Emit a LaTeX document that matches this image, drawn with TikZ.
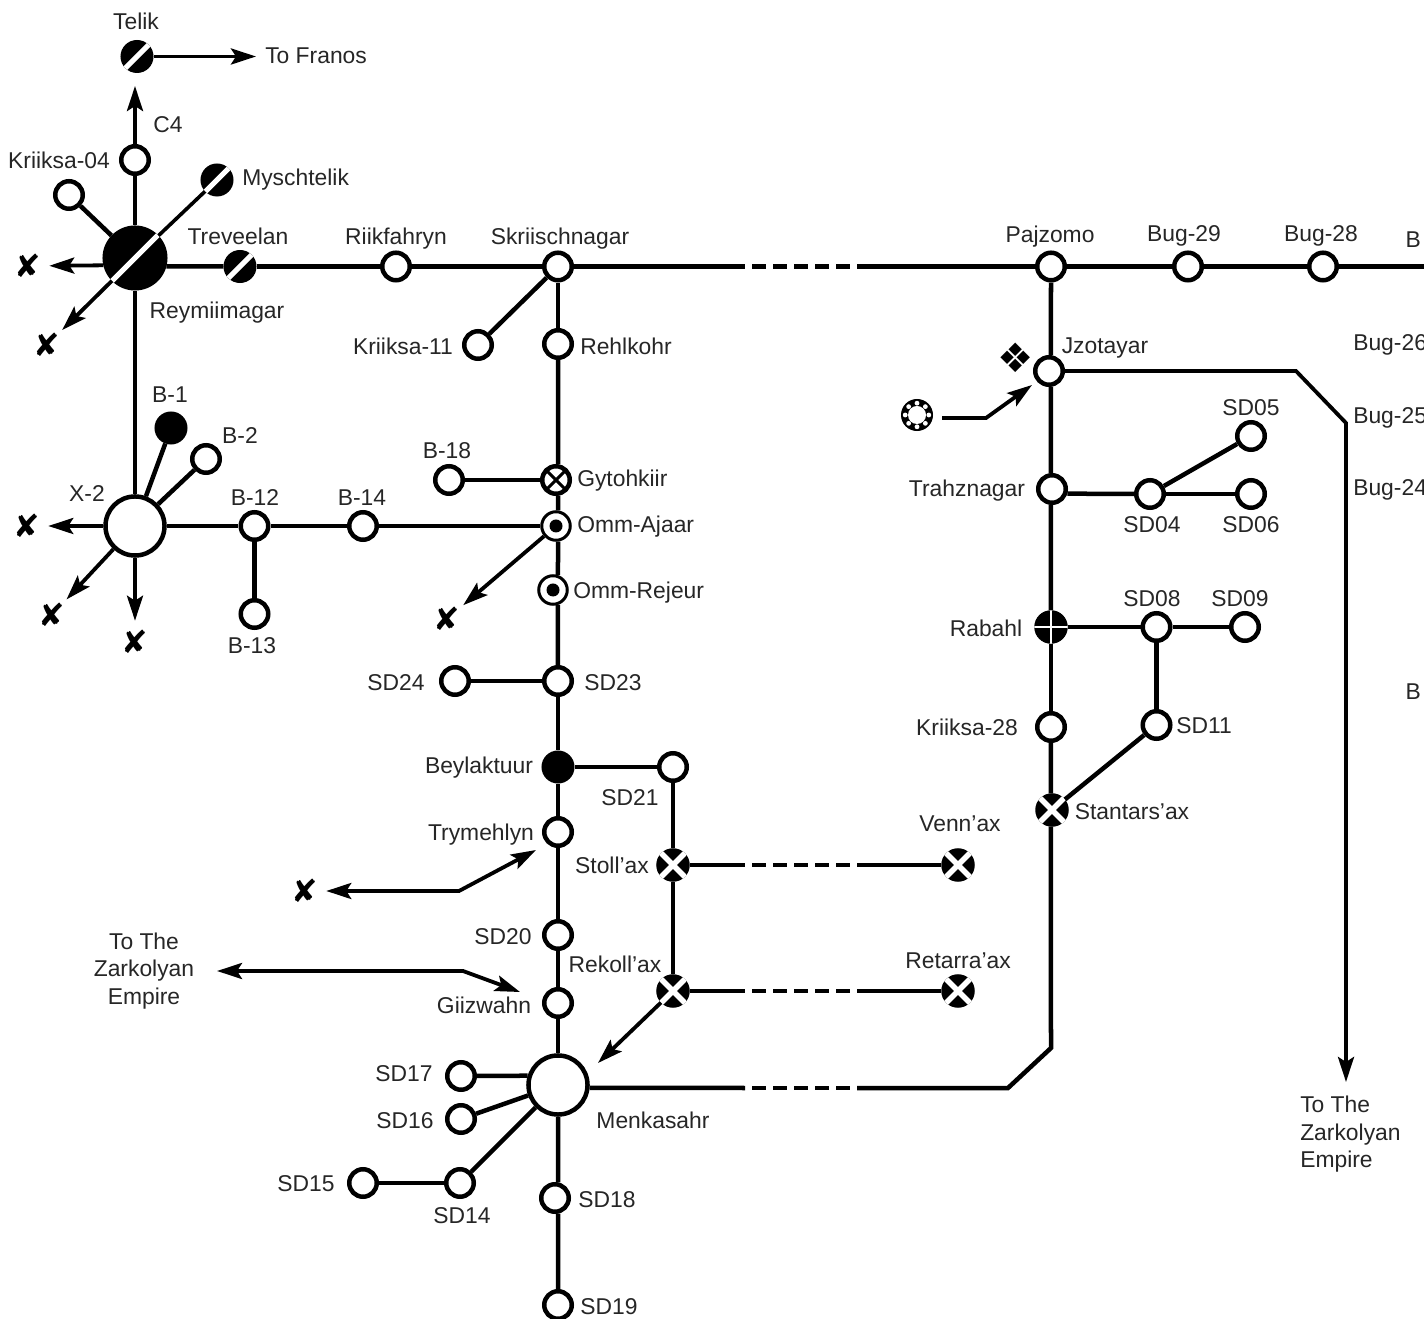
\documentclass[tikz,border=0pt]{standalone}
\usepackage{fontspec}
\setmainfont{Liberation Sans}
\newfontfamily\symfont{DejaVu Sans}
\usetikzlibrary{arrows.meta}

\tikzset{
	lab/.style={font=\fontsize{6.5}{7.8}\selectfont, text=black!85, inner sep=0pt, text height=0.16cm, text depth=0pt},
	blk/.style={font=\fontsize{6.5}{7.8}\selectfont, text=black!85, inner sep=0pt},
	stn/.style={circle, draw, fill=white, inner sep=0pt, minimum size=0.275cm},
	hub/.style={stn, minimum size=0.59cm},
	dot/.style={circle, fill=black, inner sep=0pt, outer sep=0pt, minimum size=0.33cm},
	slash/.style={dot, path picture={\draw[white, line width=0.05cm] (path picture bounding box.south west) -- (path picture bounding box.north east);}},
	hubslash/.style={slash, minimum size=0.65cm},
	xdisc/.style={dot, minimum size=0.335cm, path picture={
		\draw[white, line width=0.055cm] (path picture bounding box.south west) -- (path picture bounding box.north east);
		\draw[white, line width=0.055cm] (path picture bounding box.north west) -- (path picture bounding box.south east);}},
	plusdisc/.style={dot, minimum size=0.335cm, path picture={
		\draw[white, line width=0.025cm] (path picture bounding box.west) -- (path picture bounding box.east);
		\draw[white, line width=0.025cm] (path picture bounding box.north) -- (path picture bounding box.south);}},
	xring/.style={stn, path picture={
		\draw[black, line width=0.03cm] (path picture bounding box.south west) -- (path picture bounding box.north east);
		\draw[black, line width=0.03cm] (path picture bounding box.north west) -- (path picture bounding box.south east);}},
	target/.style={stn, line width=0.03cm, minimum size=0.285cm, path picture={\fill[black] (path picture bounding box.center) circle (0.065cm);}},
	beads/.style={dot, minimum size=0.32cm, path picture={
		\fill[white] (path picture bounding box.center) circle (0.09cm);
		\foreach \a in {0,45,...,315} \fill[white] (path picture bounding box.center) ++(\a:0.118cm) circle (0.024cm);}},
	xm/.style={circle, inner sep=0pt, minimum size=0.38cm, font=\symfont\fontsize{9}{9}\selectfont},
	arw/.style={-{Stealth[length=0.25cm, width=0.16cm, inset=0.05cm]}, line width=0.038cm},
	arwb/.style={{Stealth[length=0.25cm, width=0.16cm, inset=0.05cm]}-{Stealth[length=0.25cm, width=0.16cm, inset=0.05cm]}, line width=0.038cm},
	gap/.style={dash pattern=on 0.14cm off 0.07cm, dash phase=0.14cm}
}

\begin{document}
\begin{tikzpicture}[x=0.01cm, y=-0.01cm, line width=0.045cm]
	\useasboundingbox (0,0) rectangle (1424,1319);

	% west junctions
	\node[slash] (telik) at (137,56.5) {};
	\node[stn] (c4) at (135,160) {};
	\node[stn] (kr04) at (69,195) {};
	\node[slash] (mysch) at (217,180) {};
	\node[hubslash] (rey) at (135,258) {};
	\node[slash] (trev) at (240,266.5) {};
	\node[stn] (riik) at (396,266.5) {};
	\node[dot] (b1) at (171,428) {};
	\node[stn] (b2) at (206,459) {};
	\node[hub] (x2) at (135,526) {};
	\node[stn] (b12) at (254.5,526) {};
	\node[stn] (b14) at (363,526) {};
	\node[stn] (b13) at (254.5,614) {};

	% centre line
	\node[stn] (skr) at (558,266.5) {};
	\node[stn] (kr11) at (478,345) {};
	\node[stn] (rehl) at (558,344) {};
	\node[stn] (b18) at (449,480) {};
	\node[xring] (gyt) at (556,480) {};
	\node[target] (oma) at (556,526) {};
	\node[target] (omr) at (553,590) {};
	\node[stn] (sd24) at (455,681) {};
	\node[stn] (sd23) at (558,681) {};
	\node[dot] (bey) at (558,767) {};
	\node[stn] (sd21) at (673,767) {};
	\node[stn] (try) at (558,832) {};
	\node[xdisc] (stoll) at (673,865) {};
	\node[xdisc] (venn) at (958,865) {};
	\node[stn] (sd20) at (558,935) {};
	\node[xdisc] (rek) at (673,991) {};
	\node[xdisc] (ret) at (958,991) {};
	\node[stn] (giz) at (558,1003) {};
	\node[hub] (menk) at (558,1085) {};
	\node[stn] (sd17) at (461,1076) {};
	\node[stn] (sd16) at (461,1119) {};
	\node[stn] (sd14) at (460,1183) {};
	\node[stn] (sd15) at (363,1183) {};
	\node[stn] (sd18) at (555,1198) {};
	\node[stn] (sd19) at (558,1305) {};

	% east line
	\node[stn] (paj) at (1051,266.5) {};
	\node[stn] (bug29) at (1188,266.5) {};
	\node[stn] (bug28) at (1323,266.5) {};
	\node[stn] (jzo) at (1049,371) {};
	\node[beads] (ring) at (917,415) {};
	\node[stn] (trah) at (1052,489) {};
	\node[stn] (sd04) at (1150,494) {};
	\node[stn] (sd05) at (1251,436) {};
	\node[stn] (sd06) at (1251,494) {};
	\node[plusdisc] (rab) at (1051,627) {};
	\node[stn] (sd08) at (1156.5,627) {};
	\node[stn] (sd09) at (1245,627) {};
	\node[stn] (kr28) at (1051,727) {};
	\node[stn] (sd11) at (1156.5,725) {};
	\node[xdisc] (stan) at (1052,810) {};

	% x marks
	\node[xm] (xrw) at (28,266) {✘};
	\node[xm] (xrs) at (47,345) {✘};
	\node[xm] (xw) at (27,526) {✘};
	\node[xm] (xsw) at (52,615) {✘};
	\node[xm] (xs) at (135,642) {✘};
	\node[xm] (xo) at (447,619) {✘};
	\node[xm] (xt) at (305,891) {✘};
	\node[font=\symfont\fontsize{11.5}{12}\selectfont, inner sep=0pt] (jzomark) at (1016,358) {❖};

	% labels
	\node[lab] (ltelik) at (136,22) {Telik};
	\node[lab, anchor=west] (lfranos) at (263,56) {To Franos};
	\node[lab] (lc4) at (168,125) {C4};
	\node[lab] (lkr04) at (59,161) {Kriiksa-04};
	\node[lab, anchor=west] (lmysch) at (240,178) {Myschtelik};
	\node[lab] (ltrev) at (238,237) {Treveelan};
	\node[lab] (lriik) at (396,237) {Riikfahryn};
	\node[lab] (lskr) at (560,237) {Skriischnagar};
	\node[lab] (lrey) at (217,311) {Reymiimagar};
	\node[lab] (lb1) at (170,394) {B-1};
	\node[lab] (lb2) at (240,436) {B-2};
	\node[lab] (lx2) at (87,493) {X-2};
	\node[lab] (lb12) at (255,497) {B-12};
	\node[lab] (lb14) at (362,497) {B-14};
	\node[lab] (lb13) at (252,645) {B-13};
	\node[lab] (lkr11) at (403,347) {Kriiksa-11};
	\node[lab, anchor=west] (lrehl) at (578,347) {Rehlkohr};
	\node[lab] (lb18) at (447,450) {B-18};
	\node[lab, anchor=west] (lgyt) at (575,479) {Gytohkiir};
	\node[lab, anchor=west] (loma) at (575,524) {Omm-Ajaar};
	\node[lab, anchor=west] (lomr) at (571,591) {Omm-Rejeur};
	\node[lab] (lsd24) at (396,682) {SD24};
	\node[lab] (lsd23) at (613,682) {SD23};
	\node[lab] (lbey) at (479,765) {Beylaktuur};
	\node[lab] (lsd21) at (630,797) {SD21};
	\node[lab] (ltry) at (481,832) {Trymehlyn};
	\node[lab] (lstoll) at (612,865) {Stoll'ax};
	\node[lab] (lvenn) at (960,823) {Venn'ax};
	\node[lab] (lsd20) at (503,936) {SD20};
	\node[lab] (lrek) at (615,964) {Rekoll'ax};
	\node[lab] (lret) at (958,960) {Retarra'ax};
	\node[lab] (lgiz) at (484,1005) {Giizwahn};
	\node[blk, align=center] (lzarkw) at (144,971) {To The\\Zarkolyan\\Empire};
	\node[lab] (lmenk) at (653,1120) {Menkasahr};
	\node[lab] (lsd17) at (404,1073) {SD17};
	\node[lab] (lsd16) at (405,1120) {SD16};
	\node[lab] (lsd15) at (306,1183) {SD15};
	\node[lab] (lsd14) at (462,1215) {SD14};
	\node[lab] (lsd18) at (607,1199) {SD18};
	\node[lab] (lsd19) at (609,1306) {SD19};
	\node[lab] (lpaj) at (1050,235) {Pajzomo};
	\node[lab] (lbug29) at (1184,234) {Bug-29};
	\node[lab] (lbug28) at (1321,234) {Bug-28};
	\node[lab, anchor=east] (lbm) at (1423,240) {B};
	\node[lab, anchor=west] (lbug26) at (1351,343) {Bug-26};
	\node[lab, anchor=west] (lbug25) at (1351,416) {Bug-25};
	\node[lab, anchor=west] (lbug24) at (1351,488) {Bug-24};
	\node[lab, anchor=east] (lbl) at (1423,691) {B};
	\node[lab] (ljzo) at (1105,346) {Jzotayar};
	\node[lab] (ltrah) at (967,489) {Trahznagar};
	\node[lab] (lsd04) at (1152,525) {SD04};
	\node[lab] (lsd05) at (1251,407) {SD05};
	\node[lab] (lsd06) at (1251,525) {SD06};
	\node[lab] (lrab) at (986,628) {Rabahl};
	\node[lab] (lsd08) at (1152,598) {SD08};
	\node[lab] (lsd09) at (1240,598) {SD09};
	\node[lab] (lkr28) at (967,727) {Kriiksa-28};
	\node[lab] (lsd11) at (1204,725) {SD11};
	\node[lab] (lstan) at (1132,811) {Stantars'ax};
	\node[blk, align=left, anchor=north west] (lzarke) at (1298,1094) {To The\\Zarkolyan\\Empire};

	% free ends and bends
	\coordinate (franos) at (256,56.5);
	\coordinate (north) at (135,86);
	\coordinate (edge) at (1424,266.5);
	\coordinate (g1) at (745,266.5);
	\coordinate (g2) at (857,266.5);
	\coordinate (g3) at (745,1088);
	\coordinate (g4) at (857,1088);
	\coordinate (g5) at (745,865);
	\coordinate (g6) at (857,865);
	\coordinate (g7) at (745,991);
	\coordinate (g8) at (857,991);
	\coordinate (m1) at (1008,1088);
	\coordinate (m2) at (1051,1048);
	\coordinate (j1) at (1296,371);
	\coordinate (j2) at (1346,423);
	\coordinate (zarke) at (1346,1082);
	\coordinate (r1) at (942,418);
	\coordinate (r2) at (986,418);
	\coordinate (r3) at (1032,385);
	\coordinate (t1) at (459,891);
	\coordinate (t2) at (536,850);
	\coordinate (z1) at (217,971);
	\coordinate (z2) at (463,971);
	\coordinate (z3) at (520,992);
	\coordinate (menktip) at (598,1063);

	\path
	(c4) edge (rey)
	(kr04) edge (rey)
	(mysch) edge[line width=0.036cm] (rey)
	(rey.-15) edge (trev)
	(trev) edge (riik)
	(riik) edge (skr)
	(rey) edge (x2)
	(b1) edge (x2)
	(b2) edge (x2)
	(x2) edge (b12)
	(b12) edge (b14)
	(b12) edge (b13)
	(b14) edge (oma)
	(skr) edge (g1)
	(g1) edge[gap] (g2)
	(g2) edge (paj)
	(paj) edge (bug29)
	(bug29) edge (bug28)
	(bug28) edge (edge)
	(skr) edge (kr11)
	(skr) edge (rehl)
	(rehl) edge (gyt.82)
	(b18) edge (gyt)
	(gyt.-82) edge (oma.82)
	(oma.-82) edge (omr.72)
	(omr.-72) edge (sd23)
	(sd24) edge (sd23)
	(sd23) edge (bey)
	(bey) edge (sd21)
	(bey) edge (try)
	(sd21) edge (stoll)
	(stoll) edge (rek)
	(stoll) edge (g5)
	(g5) edge[gap] (g6)
	(g6) edge (venn)
	(rek) edge (g7)
	(g7) edge[gap] (g8)
	(g8) edge (ret)
	(try) edge (sd20)
	(sd20) edge (giz)
	(giz) edge (menk)
	(sd17) edge (menk.163)
	(sd16) edge (menk)
	(sd14) edge (menk)
	(sd15) edge (sd14)
	(menk) edge (sd18.79)
	(sd18.-79) edge (sd19)
	(menk.-5) edge (g3)
	(g3) edge[gap] (g4)
	(paj) edge (jzo.83)
	(jzo.-83) edge (trah.94)
	(trah.-94) edge (rab)
	(rab) edge (kr28)
	(kr28) edge (stan.94)
	(trah.-17) edge (sd04)
	(sd04) edge (sd05)
	(sd04) edge (sd06)
	(rab) edge (sd08)
	(sd08) edge (sd09)
	(sd08) edge (sd11)
	(sd11) edge (stan);

	\draw (g4) -- (m1) -- (m2) -- (stan.-94);
	\draw[arw] (jzo) -- (j1) -- (j2) -- (zarke);
	\draw[arw] (r1) -- (r2) -- (r3);
	\draw[arwb] (xt) -- (t1) -- (t2);
	\draw[arwb] (z1) -- (z2) -- (z3);

	\path [arw]
	(telik) edge (franos)
	(c4) edge (north)
	(rey.193) edge (xrw)
	(rey) edge (xrs)
	(x2) edge (xw)
	(x2) edge (xsw)
	(x2) edge (xs)
	(oma) edge (xo)
	(rek) edge (menktip);
\end{tikzpicture}
\end{document}
